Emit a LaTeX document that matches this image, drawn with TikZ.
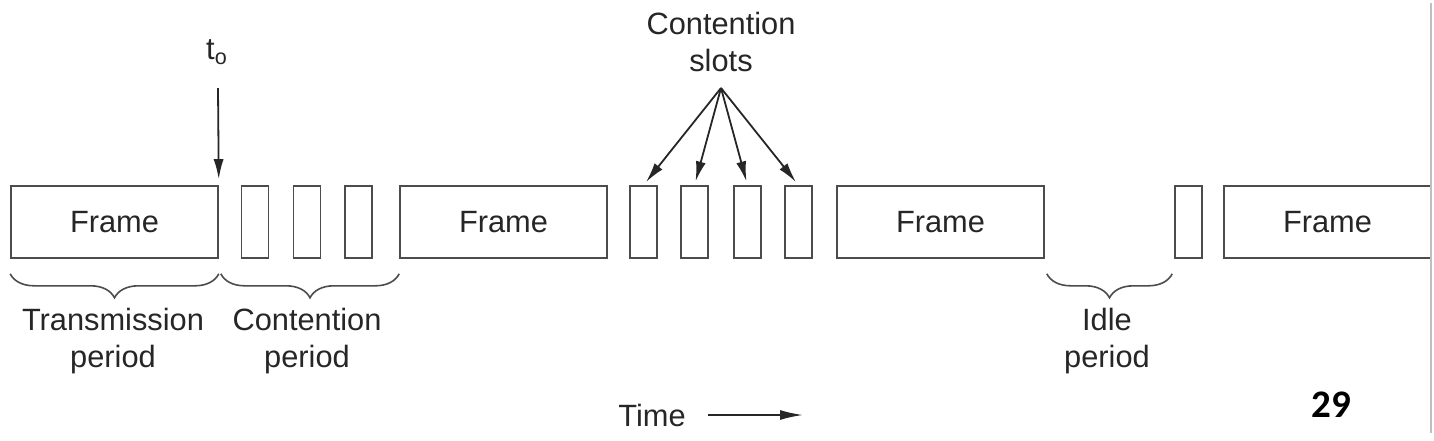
\documentclass[tikz,border=0pt]{standalone}
\usepackage{fontspec}
\setmainfont{Liberation Sans}
\newfontfamily\pagenumfont{Carlito}
\usetikzlibrary{arrows.meta,decorations.pathreplacing}

\begin{document}
\begin{tikzpicture}[x=0.5pt,y=-0.5pt,
    frame/.style={draw=black!70, line width=0.8pt, inner sep=0pt,
                  minimum width=103.5pt, minimum height=36pt,
                  font=\fontsize{15.4}{18.5}\selectfont, text=black!85},
    slot/.style={draw=black!70, line width=0.8pt, inner sep=0pt,
                 minimum width=13.5pt, minimum height=36pt},
    lbl/.style={align=center, inner sep=0pt,
                font=\fontsize{15.4}{18.5}\selectfont, text=black!85},
    arr/.style={-{Latex[length=10pt,width=5pt]}, line width=0.9pt, black!85},
    brc/.style={decorate, decoration={brace, mirror, amplitude=12pt},
                line width=0.8pt, black!70}]
\useasboundingbox (0,0) rectangle (1434,440);

\def\boxy{222}

% frames
\node[frame] (f1) at (114.5,\boxy) {Frame};
\node[frame] (f2) at (503.5,\boxy) {Frame};
\node[frame] (f3) at (940.5,\boxy) {Frame};
\node[frame] (f4) at (1327.5,\boxy) {Frame};

% contention slots
\foreach \x [count=\i] in {255,307,358.5,643.5,694.5,747.5,798.5,1188.5}
  \node[slot] (s\i) at (\x,\boxy) {};

% t_o marker
\node[lbl] (t0) at (217,52) {t\textsubscript{o}};
\coordinate (t0top) at (218,88);
\draw[arr, shorten >=3pt] (t0top) -- (f1.north east);

% slots label
\node[lbl] (cslbl) at (721,42) {Contention\\slots};
\coordinate (cs) at (721,88);
\foreach \i in {4,...,7}
  \draw[arr, shorten >=2pt] (cs) -- (s\i.north);

% braces
\draw[brc] ([yshift=-7.5pt]f1.south west) -- ([yshift=-7.5pt]f1.south east);
\draw[brc] ([xshift=1pt,yshift=-7.5pt]f1.south east) -- ([yshift=-7.5pt]f2.south west);
\draw[brc] ([xshift=1pt,yshift=-7.5pt]f3.south east) -- ([xshift=-1pt,yshift=-7.5pt]s8.south west);

\node[lbl] (ltx) at (113,341) {Transmission\\period};
\node[lbl] (lct) at (307,341) {Contention\\period};
\node[lbl] (lidle) at (1107,341) {Idle\\period};

% time axis
\node[lbl] (time) at (652,415) {Time};
\coordinate (tend) at (803,415);
\draw[arr, -{Latex[length=11.5pt,width=5pt]}, shorten <=11pt] (time.east) -- (tend);

% page number
\node[inner sep=0pt, font=\pagenumfont\fontsize{19.5}{20}\selectfont\bfseries] (pg) at (1331,405) {29};

\draw[black!25, line width=0.8pt] (1431,3) -- (1431,433);
\end{tikzpicture}
\end{document}
